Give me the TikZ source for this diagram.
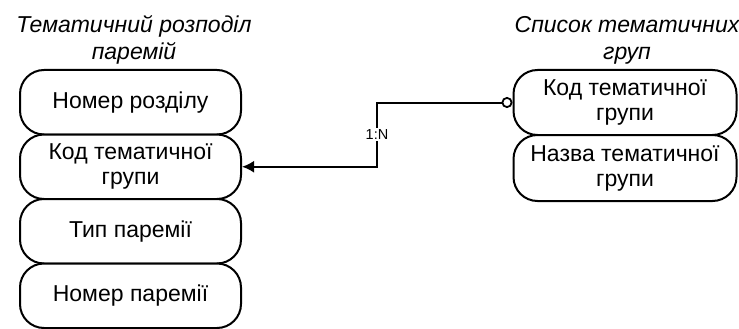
\documentclass[tikz,border=0pt]{standalone}
\usepackage{fontspec}
\setmainfont{Liberation Sans}
\usetikzlibrary{arrows.meta}
\tikzset{
  field/.style={draw=black, line width=2pt, rounded corners=24pt, fill=white,
    minimum width=221pt, minimum height=64.5pt, align=center, inner sep=0pt,
    font=\fontsize{23}{25}\selectfont},
  title/.style={align=center, inner sep=0pt, font=\fontsize{23}{27}\selectfont\itshape},
  link/.style={line width=2pt},
  card/.style={font=\fontsize{14.5}{16}\selectfont, fill=white, inner sep=1.5pt}
}
\begin{document}
\begin{tikzpicture}[x=1pt,y=-1pt]
\useasboundingbox (0,0) rectangle (739,329);
% left entity
\node[title, anchor=north] (lt) at (134,15) {Тематичний розподіл\\паремій};
\node[field] (l1) at (130.5,102.25) {Номер розділу};
\node[field] (l2) at (130.5,166.75) {Код тематичної\\групи};
\node[field] (l3) at (130.5,231.25) {Тип паремії};
\node[field] (l4) at (130.5,295.75) {Номер паремії};
% right entity
\node[title, anchor=north] (rt) at (627,16) {Список тематичних\\груп};
\node[field, minimum width=223pt, minimum height=65pt] (r1) at (625,102.5) {Код тематичної\\групи};
\node[field, minimum width=223pt, minimum height=66pt] (r2) at (625,168) {Назва тематичної\\групи};
% relation
\coordinate (bend) at (377,0);
\draw[link, {Circle[open,length=11pt,width=11pt,line width=1.8pt]}-{Latex[length=12pt,width=12pt]}]
  (r1.west) -- (r1.west -| bend) -- node[card, midway] {1:N} (l2.east -| bend) -- (l2.east);
\end{tikzpicture}
\end{document}
